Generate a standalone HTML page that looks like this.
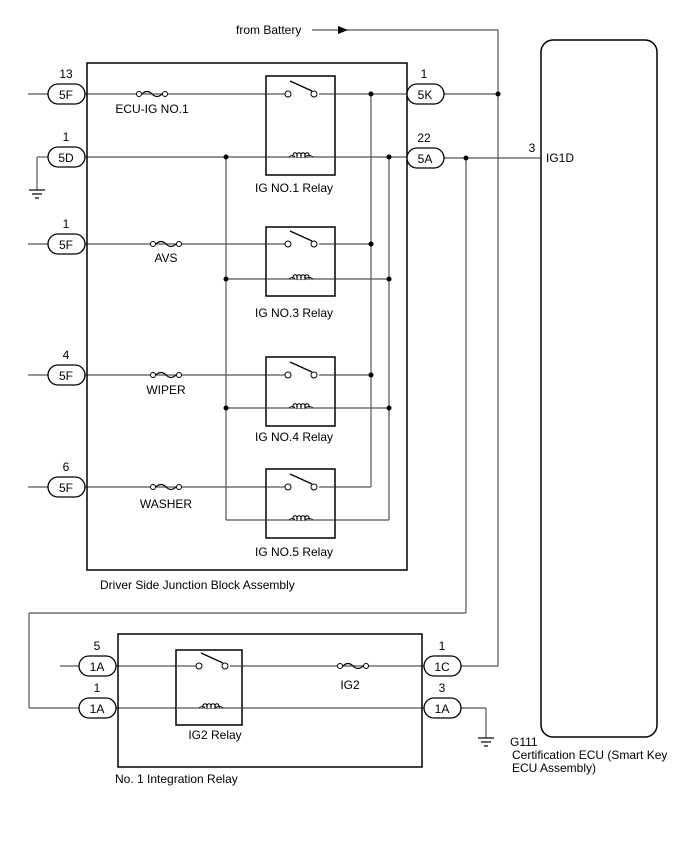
<!DOCTYPE html>
<html><head><meta charset="utf-8"><style>
html,body{margin:0;padding:0;background:#fff;}
svg{display:block;}
text{font-family:"Liberation Sans",sans-serif;font-size:12px;fill:#000;}
</style></head><body>
<svg width="688" height="852" viewBox="0 0 688 852" xmlns="http://www.w3.org/2000/svg">
<defs>
<g id="fuse"><circle cx="0" cy="0" r="2.5" fill="#fff" stroke="#000" stroke-width="1"/><path d="M3 0 Q8 -5 13 0 Q18 5 23 0" fill="none" stroke="#000" stroke-width="1.2"/><circle cx="26" cy="0" r="2.5" fill="#fff" stroke="#000" stroke-width="1"/></g>
<g id="sw"><circle cx="0" cy="0" r="3" fill="#fff" stroke="#000" stroke-width="1"/><line x1="2" y1="-13" x2="24" y2="-3" stroke="#000" stroke-width="1.3"/><circle cx="26" cy="0" r="3" fill="#fff" stroke="#000" stroke-width="1"/></g>
<g id="coil"><path d="M-12 0 Q-8 -3 -6 0 M-8 0 a2.2 3 0 1 1 4 0 a2.2 3 0 1 1 4 0 a2.2 3 0 1 1 4 0 a2.2 3 0 1 1 4 0 M4 0 Q8 -3 12 0" fill="#fff" stroke="#000" stroke-width="1"/></g>
</defs>
<g stroke="#555" stroke-width="1.2" fill="none">
<!-- battery -->
<line x1="312" y1="30" x2="498" y2="30"/>
<line x1="498" y1="30" x2="498" y2="666"/>
<!-- row lines top -->
<line x1="28" y1="94" x2="48" y2="94"/>
<line x1="85" y1="94" x2="407" y2="94"/>
<line x1="443" y1="94" x2="498" y2="94"/>
<line x1="37" y1="157" x2="48" y2="157"/>
<line x1="37" y1="157" x2="37" y2="190"/>
<line x1="85" y1="157" x2="407" y2="157"/>
<line x1="444" y1="158" x2="541" y2="158"/>
<line x1="28" y1="244" x2="48" y2="244"/>
<line x1="85" y1="244" x2="371" y2="244"/>
<line x1="28" y1="375" x2="48" y2="375"/>
<line x1="85" y1="375" x2="371" y2="375"/>
<line x1="28" y1="487" x2="48" y2="487"/>
<line x1="85" y1="487" x2="371" y2="487"/>
<line x1="226" y1="279" x2="389" y2="279"/>
<line x1="226" y1="408" x2="389" y2="408"/>
<line x1="226" y1="520" x2="389" y2="520"/>
<line x1="226" y1="157" x2="226" y2="520"/>
<line x1="371" y1="94" x2="371" y2="487"/>
<line x1="389" y1="157" x2="389" y2="520"/>
<!-- 466 line -->
<line x1="466" y1="158" x2="466" y2="613"/>
<line x1="466" y1="613" x2="29" y2="613"/>
<line x1="29" y1="613" x2="29" y2="708"/>
<line x1="29" y1="708" x2="80" y2="708"/>
<!-- bottom -->
<line x1="60" y1="666" x2="80" y2="666"/>
<line x1="116" y1="666" x2="424" y2="666"/>
<line x1="460" y1="666" x2="498" y2="666"/>
<line x1="116" y1="708" x2="424" y2="708"/>
<line x1="460" y1="708" x2="486" y2="708"/>
<line x1="486" y1="708" x2="486" y2="738"/>
</g>
<!-- grounds -->
<g stroke="#000" stroke-width="1.2">
<line x1="29" y1="190" x2="45" y2="190"/><line x1="32" y1="194" x2="42" y2="194"/><line x1="35" y1="198" x2="39" y2="198"/>
<line x1="478" y1="738" x2="494" y2="738"/><line x1="481" y1="742" x2="491" y2="742"/><line x1="484" y1="746" x2="488" y2="746"/>
</g>
<polygon points="338,26 348,30 338,34" fill="#000"/>
<!-- boxes -->
<rect x="87" y="63" width="320" height="507" fill="none" stroke="#000" stroke-width="1.5"/>
<rect x="118" y="634" width="304" height="133" fill="none" stroke="#000" stroke-width="1.5"/>
<rect x="541" y="40" width="116" height="697" rx="12" fill="none" stroke="#000" stroke-width="1.5"/>
<g fill="#fff" stroke="#000" stroke-width="1.5">
<rect x="266" y="76" width="69" height="99"/>
<rect x="266" y="227" width="69" height="69"/>
<rect x="266" y="357" width="69" height="69"/>
<rect x="266" y="469" width="69" height="69"/>
<rect x="176" y="650" width="66" height="75"/>
</g>
<!-- relay internal wires -->
<g stroke="#555" stroke-width="1.2">
<line x1="266" y1="94" x2="335" y2="94"/><line x1="266" y1="157" x2="335" y2="157"/>
<line x1="266" y1="244" x2="335" y2="244"/><line x1="266" y1="279" x2="335" y2="279"/>
<line x1="266" y1="375" x2="335" y2="375"/><line x1="266" y1="408" x2="335" y2="408"/>
<line x1="266" y1="487" x2="335" y2="487"/><line x1="266" y1="520" x2="335" y2="520"/>
<line x1="176" y1="666" x2="242" y2="666"/><line x1="176" y1="708" x2="242" y2="708"/>
</g>
<g fill="#fff">
<rect x="285" y="85" width="34" height="12"/><rect x="285" y="235" width="34" height="12"/><rect x="285" y="366" width="34" height="12"/><rect x="285" y="478" width="34" height="12"/><rect x="196" y="657" width="34" height="12"/>
</g>
<use href="#sw" x="288" y="94"/><use href="#sw" x="288" y="244"/><use href="#sw" x="288" y="375"/><use href="#sw" x="288" y="487"/><use href="#sw" x="199" y="666"/>
<use href="#coil" x="301" y="157"/><use href="#coil" x="301" y="279"/><use href="#coil" x="301" y="408"/><use href="#coil" x="301" y="520"/><use href="#coil" x="211" y="708"/>
<use href="#fuse" x="139" y="94"/><use href="#fuse" x="153" y="244"/><use href="#fuse" x="153" y="375"/><use href="#fuse" x="153" y="487"/><use href="#fuse" x="340" y="666"/>
<!-- dots -->
<g fill="#000">
<circle cx="371" cy="94" r="2.5"/><circle cx="498" cy="94" r="2.5"/><circle cx="226" cy="157" r="2.5"/><circle cx="389" cy="157" r="2.5"/><circle cx="466" cy="158" r="2.5"/>
<circle cx="371" cy="244" r="2.5"/><circle cx="226" cy="279" r="2.5"/><circle cx="389" cy="279" r="2.5"/>
<circle cx="371" cy="375" r="2.5"/><circle cx="226" cy="408" r="2.5"/><circle cx="389" cy="408" r="2.5"/>
</g>
<!-- pills -->
<g fill="#fff" stroke="#000" stroke-width="1.3">
<rect x="48" y="84" width="37" height="20" rx="10"/>
<rect x="48" y="147" width="37" height="20" rx="10"/>
<rect x="48" y="234" width="37" height="20" rx="10"/>
<rect x="48" y="365" width="37" height="20" rx="10"/>
<rect x="48" y="477" width="37" height="20" rx="10"/>
<rect x="407" y="84" width="37" height="20" rx="10"/>
<rect x="407" y="148" width="37" height="20" rx="10"/>
<rect x="79" y="656" width="37" height="20" rx="10"/>
<rect x="79" y="698" width="37" height="20" rx="10"/>
<rect x="424" y="656" width="37" height="20" rx="10"/>
<rect x="424" y="698" width="37" height="20" rx="10"/>
</g>
<g text-anchor="middle">
<text x="66" y="99">5F</text><text x="66" y="162">5D</text><text x="66" y="249">5F</text><text x="66" y="380">5F</text><text x="66" y="492">5F</text>
<text x="425" y="99">5K</text><text x="425" y="163">5A</text>
<text x="97" y="671">1A</text><text x="97" y="713">1A</text><text x="442" y="671">1C</text><text x="442" y="713">1A</text>
<text x="66" y="78">13</text><text x="66" y="141">1</text><text x="66" y="228">1</text><text x="66" y="359">4</text><text x="66" y="471">6</text>
<text x="424" y="78">1</text><text x="424" y="142">22</text>
<text x="97" y="650">5</text><text x="97" y="692">1</text><text x="442" y="650">1</text><text x="442" y="692">3</text>
<text x="152" y="113">ECU-IG NO.1</text>
<text x="166" y="262">AVS</text><text x="166" y="394">WIPER</text><text x="166" y="508">WASHER</text>
<text x="294" y="192">IG NO.1 Relay</text><text x="294" y="317">IG NO.3 Relay</text><text x="294" y="441">IG NO.4 Relay</text><text x="294" y="556">IG NO.5 Relay</text>
<text x="350" y="689">IG2</text><text x="215" y="739">IG2 Relay</text>
<text x="532" y="152">3</text>
</g>
<text x="236" y="34">from Battery</text>
<text x="546" y="162">IG1D</text>
<text x="100" y="589">Driver Side Junction Block Assembly</text>
<text x="115" y="783">No. 1 Integration Relay</text>
<text x="510" y="746">G111</text>
<text x="512" y="759">Certification ECU (Smart Key</text>
<text x="512" y="772">ECU Assembly)</text>
</svg>
</body></html>
